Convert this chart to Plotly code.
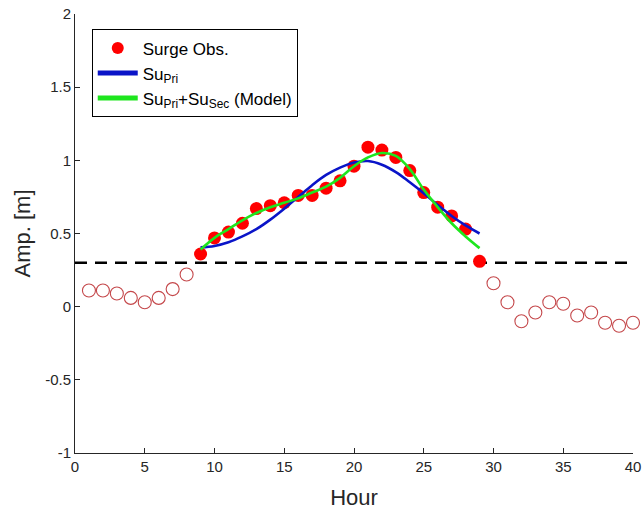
import plotly.graph_objects as go

hours_pre = [1, 2, 3, 4, 5, 6, 7, 8]
obs_pre = [0.11, 0.11, 0.09, 0.06, 0.03, 0.06, 0.12, 0.22]

hours_event = list(range(9, 30))
obs_event = [0.36, 0.47, 0.51, 0.57, 0.67, 0.69, 0.71, 0.76, 0.76, 0.81, 0.86,
             0.96, 1.09, 1.07, 1.02, 0.93, 0.78, 0.68, 0.62, 0.53, 0.31]
su_pri = [0.405, 0.415, 0.44, 0.48, 0.53, 0.595, 0.67, 0.75, 0.83, 0.90, 0.95,
          0.985, 0.995, 0.97, 0.92, 0.85, 0.775, 0.695, 0.62, 0.555, 0.50]
su_model = [0.39, 0.47, 0.53, 0.59, 0.64, 0.68, 0.71, 0.74, 0.78, 0.82, 0.88,
            0.96, 1.02, 1.05, 1.03, 0.94, 0.80, 0.68, 0.57, 0.48, 0.40]

hours_post = list(range(30, 41))
obs_post = [0.16, 0.03, -0.10, -0.04, 0.03, 0.02, -0.06, -0.04, -0.11, -0.13, -0.11]

threshold = 0.3
x_range = [0, 40]
y_range = [-1, 2]
x_ticks = [0, 5, 10, 15, 20, 25, 30, 35, 40]
y_ticks = [-1, -0.5, 0, 0.5, 1, 1.5, 2]
y_ticklabels = ["-1", "-0.5", "0", "0.5", "1", "1.5", "2"]

FONT = "Liberation Sans, Arial, sans-serif"
AX = "#262626"

fig = go.Figure()

fig.add_trace(go.Scatter(
    x=x_range, y=[threshold, threshold], mode="lines",
    line=dict(color="black", width=2.5, dash="12px,8px"),
    showlegend=False, hoverinfo="skip"))

fig.add_trace(go.Scatter(
    x=hours_pre + hours_post, y=obs_pre + obs_post, mode="markers",
    marker=dict(symbol="circle-open", size=13, color="#C4474A",
                line=dict(width=1.1, color="#C4474A")),
    cliponaxis=False, showlegend=False))

fig.add_trace(go.Scatter(
    x=hours_event, y=obs_event, mode="markers", name="Surge Obs.",
    marker=dict(symbol="circle", size=13, color="#FF0000",
                line=dict(width=0))))

fig.add_trace(go.Scatter(
    x=hours_event, y=su_pri, mode="lines", name="Su<sub>Pri</sub>",
    line=dict(color="#0A14C8", width=2.6, shape="spline")))

fig.add_trace(go.Scatter(
    x=hours_event, y=su_model, mode="lines",
    name="Su<sub>Pri</sub>+Su<sub>Sec</sub> (Model)",
    line=dict(color="#1EE61E", width=2.6, shape="spline")))

fig.update_layout(
    width=642, height=514,
    margin=dict(l=75, r=9, t=14, b=61),
    paper_bgcolor="white", plot_bgcolor="white",
    font=dict(family=FONT, size=15, color=AX),
    legend=dict(x=0.03, y=0.965, xanchor="left", yanchor="top",
                bordercolor="black", borderwidth=1, bgcolor="white",
                font=dict(size=17, color="black", family=FONT),
                itemsizing="constant", itemwidth=40, tracegroupgap=0),
    xaxis=dict(range=x_range, tickvals=x_ticks, showgrid=False, zeroline=False,
               automargin=False,
               showline=True, linecolor=AX, linewidth=1, ticks="inside",
               ticklen=5, tickcolor=AX, tickfont=dict(size=15, color=AX),
               title=dict(text="Hour", font=dict(size=22, color=AX))),
    yaxis=dict(range=y_range, tickvals=y_ticks, ticktext=y_ticklabels,
               showgrid=False, zeroline=False, automargin=False,
               showline=True, linecolor=AX, linewidth=1, ticks="inside",
               ticklen=5, tickcolor=AX, tickfont=dict(size=15, color=AX),
               title=dict(text="Amp. [m]", font=dict(size=22, color=AX),
                          standoff=8)),
)

fig.write_html("out.html")
